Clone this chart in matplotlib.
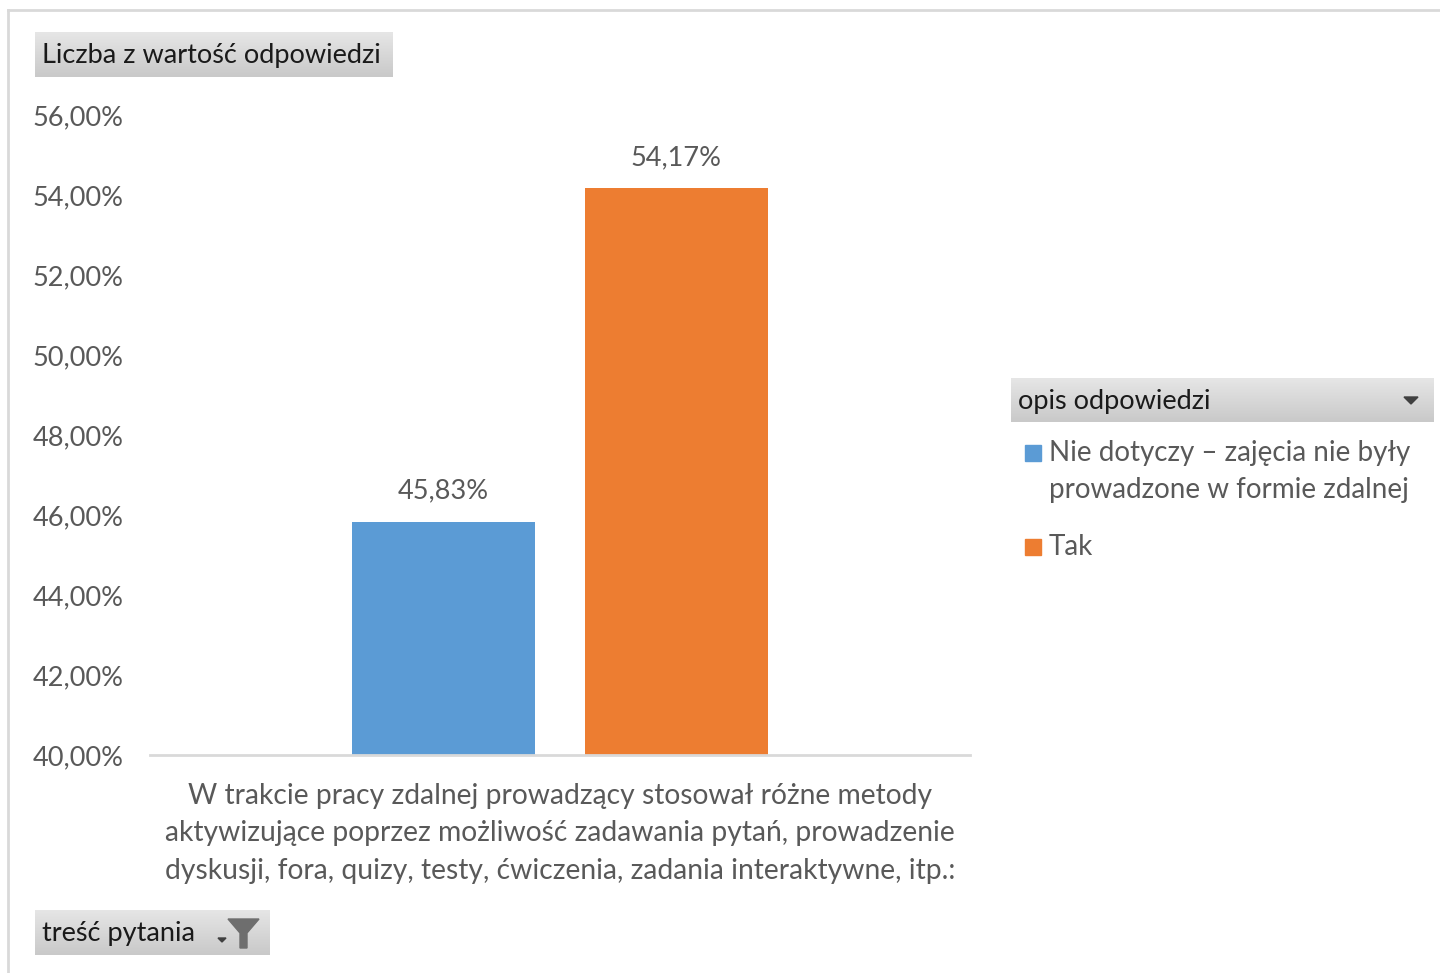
import numpy as np
import matplotlib.pyplot as plt
from matplotlib.patches import Rectangle, Polygon
from matplotlib.lines import Line2D
from matplotlib.colors import LinearSegmentedColormap

plt.rcParams['font.family'] = ['Lato', 'DejaVu Sans']

# data
series = [['Nie dotyczy \u2013 zaj\u0119cia nie by\u0142y', 'prowadzone w formie zdalnej'], ['Tak']]
values = [45.83, 54.17]
colors = ['#5B9BD5', '#ED7D31']
category = ('W trakcie pracy zdalnej prowadz\u0105cy stosowa\u0142 r\u00f3\u017cne metody\n'
            'aktywizuj\u0105ce poprzez mo\u017cliwo\u015b\u0107 zadawania pyta\u0144, prowadzenie\n'
            'dyskusji, fora, quizy, testy, \u0107wiczenia, zadania interaktywne, itp.:')
yticks = np.arange(40, 57, 2)

W, H = 1440, 973
fig = plt.figure(figsize=(W / 100, H / 100), dpi=100)

def fx(px):
    return px / W

def fy(py):
    return 1 - py / H

txt_col = '#595959'
fs = 19.5

# outer chart frame
fig.add_artist(Line2D([fx(8), fx(8)], [fy(10), 0], color='#D9D9D9', lw=2))
fig.add_artist(Line2D([fx(8), 1], [fy(10), fy(10)], color='#D9D9D9', lw=2))

ax = fig.add_axes([fx(150), fy(755), fx(970) - fx(150), fy(115) - fy(755)])
width = 0.224
gap = 0.06
offsets = [-(width + gap) / 2, (width + gap) / 2]
for v, c, off in zip(values, colors, offsets):
    ax.bar(off, v - 40, bottom=40, width=width, color=c)
    ax.text(off, v + 0.45, f'{v:.2f}%'.replace('.', ','), ha='center', va='bottom',
            fontsize=fs, color=txt_col)
ax.set_xlim(-0.5, 0.5)
ax.set_ylim(40, 56)
ax.set_yticks(yticks)
ax.set_yticklabels([f'{t:.2f}%'.replace('.', ',') for t in yticks], fontsize=fs, color=txt_col)
ax.set_xticks([])
for s in ['top', 'right', 'left']:
    ax.spines[s].set_visible(False)
ax.spines['bottom'].set_color('#D9D9D9')
ax.spines['bottom'].set_linewidth(2)
ax.tick_params(axis='y', length=0, pad=19)
ax.text(0.5, -0.043, category, transform=ax.transAxes, ha='center', va='top',
        fontsize=20.3, color=txt_col, linespacing=1.55)


def button(x0, y0, x1, y1, label):
    bax = fig.add_axes([fx(x0), fy(y1), fx(x1) - fx(x0), fy(y0) - fy(y1)])
    grad = np.linspace(0, 1, 50).reshape(-1, 1)
    bax.imshow(grad, aspect='auto', cmap=LinearSegmentedColormap.from_list(
        'g', ['#E6E6E6', '#C9C9C9']), extent=[0, 1, 0, 1], origin='upper')
    bax.set_axis_off()
    fig.text(fx(x0 + 7), fy((y0 + y1) / 2 + 1), label, ha='left', va='center',
             fontsize=fs, color='#1A1A1A')


button(35, 32, 393, 77, 'Liczba z warto\u015b\u0107 odpowiedzi')
button(1011, 378, 1433, 422, 'opis odpowiedzi')
button(35, 910, 270, 955, 'tre\u015b\u0107 pytania')

# dropdown arrow in legend header
fig.add_artist(Polygon([(fx(1404), fy(397)), (fx(1418), fy(397)), (fx(1411), fy(404))],
                       closed=True, color='#404040'))
# filter icon on bottom button
fig.add_artist(Polygon([(fx(228), fy(919)), (fx(259), fy(919)), (fx(247), fy(933)),
                        (fx(247), fy(948)), (fx(240), fy(948)), (fx(240), fy(933))],
                       closed=True, color='#6E6E6E'))
fig.add_artist(Polygon([(fx(218), fy(938)), (fx(226), fy(938)), (fx(222), fy(942))],
                       closed=True, color='#404040'))

# legend items
leg_y = [453, 547]
for lines, c, y in zip(series, colors, leg_y):
    fig.add_artist(Rectangle((fx(1025), fy(y + 8)), fx(16), 16 / H, color=c))
    for i, line in enumerate(lines):
        fig.text(fx(1049), fy(y + 37 * i), line, ha='left', va='center',
                 fontsize=20, color=txt_col)

fig.savefig('out.png', dpi=100)
